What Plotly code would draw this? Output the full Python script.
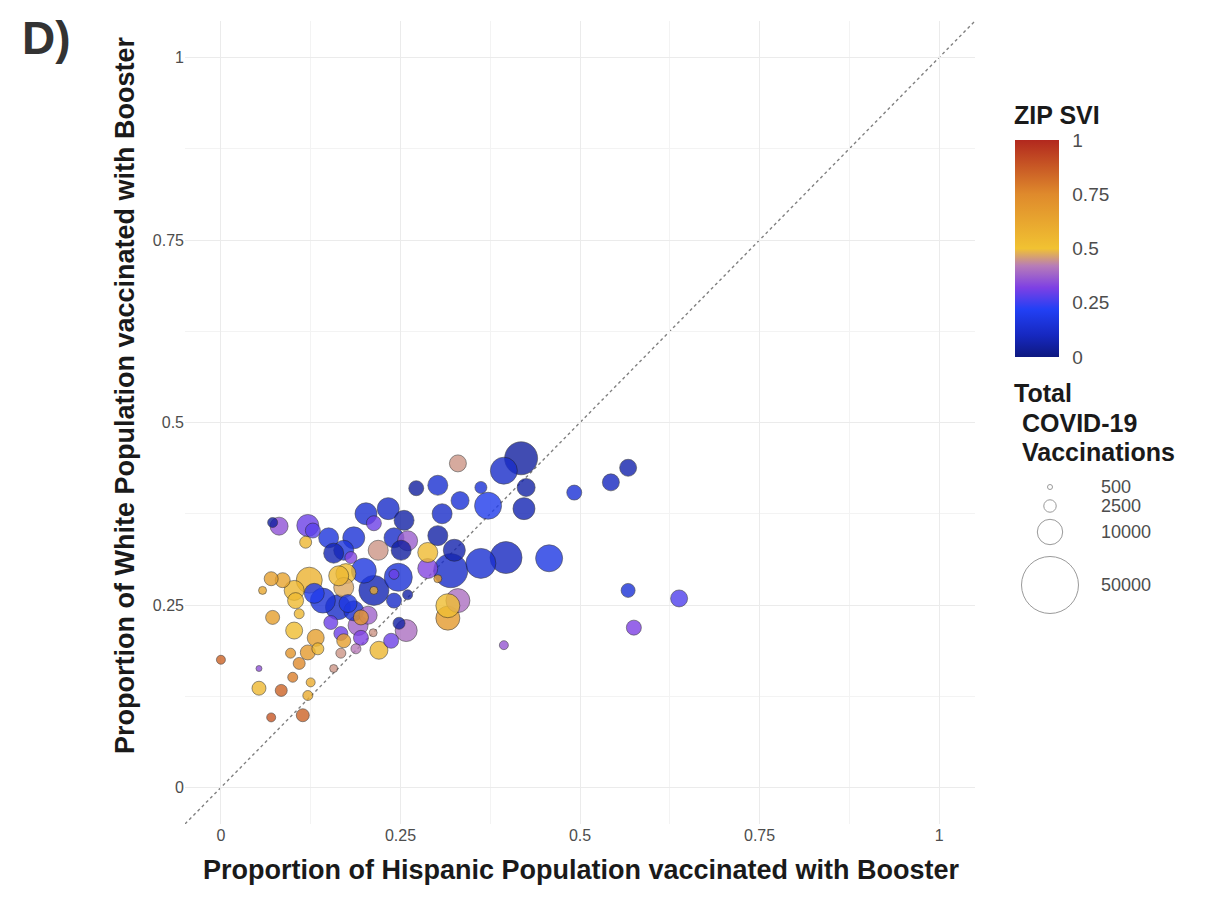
import numpy as np
import plotly.graph_objects as go

# ---------------- data ----------------
hispanic = [0.418, 0.394, 0.425, 0.422, 0.362, 0.372, 0.333, 0.330, 0.492, 0.543,
            0.567, 0.457, 0.397, 0.362, 0.567, 0.638, 0.575, 0.394, 0.330, 0.316,
            0.316, 0.272, 0.302, 0.308, 0.302, 0.288, 0.325, 0.320, 0.288, 0.302,
            0.202, 0.233, 0.255, 0.213, 0.185, 0.260, 0.241, 0.219, 0.251, 0.199,
            0.247, 0.213, 0.213, 0.174, 0.171, 0.181, 0.260, 0.241, 0.177, 0.195,
            0.248, 0.258, 0.237, 0.220, 0.212, 0.191, 0.195, 0.171, 0.157, 0.167,
            0.072, 0.081, 0.121, 0.128, 0.118, 0.150, 0.157, 0.070, 0.086, 0.058,
            0.123, 0.102, 0.104, 0.072, 0.164, 0.171, 0.142, 0.163, 0.130, 0.185,
            0.205, 0.153, 0.102, 0.132, 0.121, 0.135, 0.097, 0.109, 0.053, 0.100,
            0.125, 0.053, 0.084, 0.121, 0.070, 0.114, 0.000, 0.109, 0.241, 0.167,
            0.188]
white = [0.451, 0.434, 0.411, 0.382, 0.411, 0.386, 0.393, 0.444, 0.404, 0.418,
         0.438, 0.314, 0.315, 0.307, 0.270, 0.259, 0.219, 0.195, 0.256, 0.249,
         0.232, 0.410, 0.414, 0.375, 0.345, 0.322, 0.325, 0.297, 0.300, 0.286,
         0.375, 0.382, 0.366, 0.362, 0.342, 0.338, 0.342, 0.325, 0.325, 0.297,
         0.288, 0.270, 0.270, 0.293, 0.325, 0.315, 0.264, 0.256, 0.252, 0.233,
         0.225, 0.215, 0.201, 0.188, 0.212, 0.222, 0.205, 0.201, 0.163, 0.184,
         0.363, 0.358, 0.359, 0.352, 0.336, 0.342, 0.321, 0.286, 0.284, 0.270,
         0.284, 0.270, 0.256, 0.233, 0.290, 0.274, 0.256, 0.247, 0.266, 0.242,
         0.236, 0.226, 0.215, 0.205, 0.185, 0.190, 0.184, 0.170, 0.163, 0.151,
         0.144, 0.136, 0.133, 0.126, 0.096, 0.099, 0.175, 0.238, 0.292, 0.211,
         0.190]
svi = [0.05, 0.12, 0.06, 0.08, 0.15, 0.20, 0.15, 0.45, 0.15, 0.10,
       0.07, 0.18, 0.10, 0.14, 0.15, 0.27, 0.32, 0.36, 0.40, 0.52,
       0.68, 0.05, 0.14, 0.12, 0.06, 0.53, 0.07, 0.12, 0.33, 0.65,
       0.14, 0.12, 0.06, 0.30, 0.15, 0.37, 0.12, 0.45, 0.05, 0.17,
       0.15, 0.08, 0.60, 0.52, 0.16, 0.33, 0.06, 0.12, 0.18, 0.70,
       0.06, 0.40, 0.30, 0.55, 0.45, 0.38, 0.32, 0.65, 0.45, 0.45,
       0.05, 0.35, 0.30, 0.28, 0.55, 0.16, 0.08, 0.65, 0.63, 0.62,
       0.57, 0.55, 0.53, 0.65, 0.54, 0.47, 0.15, 0.12, 0.20, 0.14,
       0.38, 0.30, 0.52, 0.65, 0.68, 0.55, 0.70, 0.75, 0.35, 0.78,
       0.60, 0.54, 0.85, 0.60, 0.88, 0.85, 0.85, 0.55, 0.30, 0.30,
       0.42]
vaccinations = [16840, 11310, 5090, 7550, 2330, 11310, 5090, 4550, 3570, 4550,
                4550, 11310, 15850, 13940, 3130, 4550, 3570, 1360, 8960, 8960,
                8960, 3570, 6260, 6260, 6260, 6260, 7550, 17870, 6260, 1100,
                7550, 7550, 6260, 3570, 7550, 6260, 6260, 6260, 6260, 9710,
                12160, 13940, 1100, 6260, 6260, 2330, 1650, 3570, 5090, 3570,
                2330, 7550, 3570, 5090, 1100, 6260, 3570, 3130, 1100, 1650,
                1650, 5090, 7550, 3570, 2330, 6260, 6260, 3130, 3570, 1100,
                10500, 6260, 4050, 3130, 6260, 6260, 9710, 9710, 6260, 6260,
                5090, 3130, 4550, 4550, 3570, 2330, 1650, 2330, 670, 1650,
                1360, 3130, 2330, 1650, 1360, 2710, 1360, 1650, 1650, 3130,
                1650]

axis_ticks = [0, 0.25, 0.5, 0.75, 1]
axis_tick_labels = ["0", "0.25", "0.5", "0.75", "1"]
svi_ticks = [0, 0.25, 0.5, 0.75, 1]
svi_tick_labels = ["0", "0.25", "0.5", "0.75", "1"]
size_legend_values = [500, 2500, 10000, 50000]
size_legend_labels = ["500", "2500", "10000", "50000"]

# ---------------- styling ----------------
FONT = "Liberation Sans, Arial, Helvetica, sans-serif"
colorscale = [[0.0, "#0e1880"], [0.1, "#1628c0"], [0.22, "#2240f5"],
              [0.32, "#7e40e4"], [0.42, "#b77cb8"], [0.5, "#f1c232"],
              [0.75, "#df8a2c"], [1.0, "#b2281e"]]


def size_scale(v):
    # area scales linearly with the value (as in the reference size legend)
    v = np.asarray(v, dtype=float)
    return np.sqrt(25 + 0.0651 * (v - 500))


sizes = size_scale(vaccinations)
order = np.argsort(-sizes)

X0, X1 = -0.05, 1.05
Y0, Y1 = -0.05, 1.05
# plot area in reference-picture pixels
PL, PR, PT, PB = 185, 975, 21, 824
PW, PH = PR - PL, PB - PT
OFF = 8  # page body margin in the browser
W, H = 1207, 897
ML, MT = PL - OFF, PT - OFF
MR, MB = W - PW - ML, H - PH - MT


def px_to_paper_x(px):
    return (px - PL) / PW


def px_to_paper_y(py):
    return (PB - py) / PH


fig = go.Figure()

fig.add_trace(go.Scatter(
    x=np.array(hispanic)[order],
    y=np.array(white)[order],
    mode="markers",
    marker=dict(
        size=sizes[order],
        sizemode="diameter",
        color=np.array(svi)[order],
        colorscale=colorscale,
        cmin=0, cmax=1,
        opacity=0.8,
        line=dict(color="rgba(30,30,30,0.75)", width=0.8),
        colorbar=dict(
            thickness=44,
            lenmode="pixels", len=217,
            x=px_to_paper_x(1015), xanchor="left", xpad=0,
            y=px_to_paper_y(248.5), yanchor="middle", ypad=0,
            outlinewidth=0,
            tickvals=svi_ticks, ticktext=svi_tick_labels,
            ticks="outside", ticklen=10, tickcolor="rgba(0,0,0,0)",
            tickfont=dict(family=FONT, size=19, color="#4d4d4d"),
        ),
    ),
    showlegend=False,
    hoverinfo="skip",
))

# y = x reference line
fig.add_shape(type="line", xref="x", yref="y", x0=X0, y0=Y0, x1=X1, y1=Y1,
              line=dict(color="#808080", width=1.4, dash="3px,3px"), layer="below")

axis_common = dict(
    range=[X0, X1], tickvals=axis_ticks, ticktext=axis_tick_labels,
    showgrid=True, gridcolor="#ebebeb", gridwidth=1.2,
    zeroline=False, showline=False, ticks="",
    tickfont=dict(family=FONT, size=16, color="#4d4d4d"),
    minor=dict(dtick=0.125, tick0=0, showgrid=True, gridcolor="#f3f3f3", gridwidth=1),
    fixedrange=True,
)
fig.update_xaxes(**axis_common)
fig.update_yaxes(**{**axis_common, "range": [Y0, Y1]})

annotations = [
    dict(text="<b>Proportion of Hispanic Population vaccinated with Booster</b>",
         xref="paper", yref="paper", x=px_to_paper_x(581), y=0, xanchor="center", yanchor="middle",
         yshift=-(870 - PB), showarrow=False,
         font=dict(family=FONT, size=27, color="#1a1a1a")),
    dict(text="<b>Proportion of White Population vaccinated with Booster</b>",
         xref="paper", yref="paper", x=0, y=px_to_paper_y(395), xanchor="center", yanchor="middle",
         xshift=125 - PL, textangle=-90, showarrow=False,
         font=dict(family=FONT, size=27, color="#1a1a1a")),
    dict(text="<b>D)</b>", xref="paper", yref="paper",
         x=px_to_paper_x(20), y=px_to_paper_y(38), xanchor="left", yanchor="middle",
         showarrow=False, font=dict(family=FONT, size=46, color="#333333")),
    dict(text="<b>ZIP SVI</b>", xref="paper", yref="paper",
         x=px_to_paper_x(1012), y=px_to_paper_y(115), xanchor="left", yanchor="middle",
         showarrow=False, font=dict(family=FONT, size=25, color="#1a1a1a")),
]
for txt, px, py in [("Total", 1012, 393), ("COVID-19", 1020, 423), ("Vaccinations", 1020, 452)]:
    annotations.append(dict(text="<b>" + txt + "</b>", xref="paper", yref="paper",
                            x=px_to_paper_x(px), y=px_to_paper_y(py),
                            xanchor="left", yanchor="middle", showarrow=False,
                            font=dict(family=FONT, size=25, color="#1a1a1a")))

# size legend
leg_sizes = size_scale(size_legend_values)
leg_y = [487, 506, 532, 585]
for d, lab, py in zip(leg_sizes, size_legend_labels, leg_y):
    r = d / 2
    fig.add_shape(type="circle", xref="paper", yref="paper",
                  xsizemode="pixel", ysizemode="pixel",
                  xanchor=px_to_paper_x(1050), yanchor=px_to_paper_y(py),
                  x0=-r, x1=r, y0=-r, y1=r,
                  line=dict(color="#9a9a9a", width=1))
    annotations.append(dict(text=lab, xref="paper", yref="paper",
                            x=px_to_paper_x(1099), y=px_to_paper_y(py),
                            xanchor="left", yanchor="middle", showarrow=False,
                            font=dict(family=FONT, size=18, color="#4d4d4d")))

fig.update_layout(
    width=W, height=H,
    margin=dict(l=ML, r=MR, t=MT, b=MB, autoexpand=False),
    paper_bgcolor="white", plot_bgcolor="white",
    font=dict(family=FONT),
    annotations=annotations,
)

fig.write_html("out.html")
